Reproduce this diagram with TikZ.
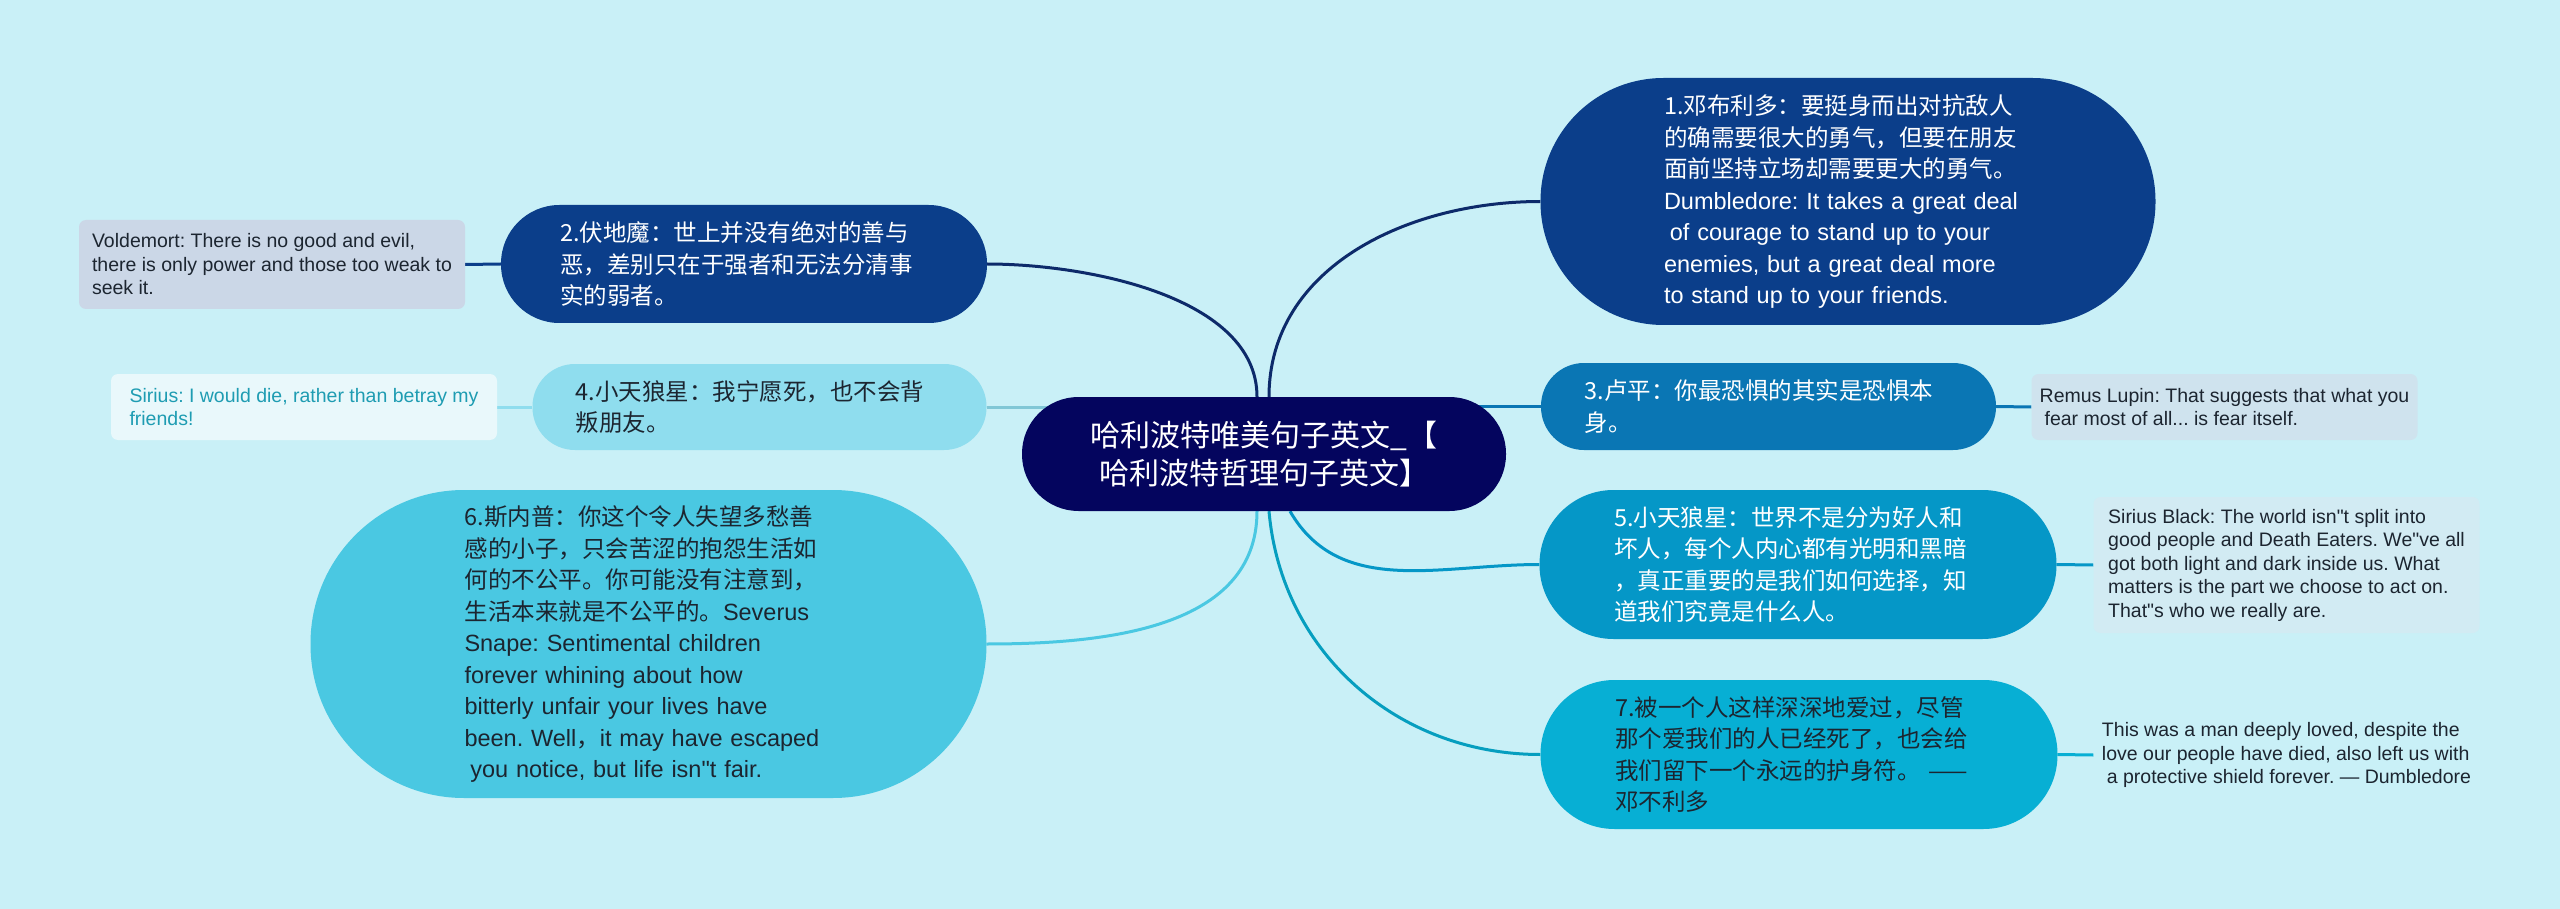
\documentclass[tikz,border=0pt]{standalone}
\usepackage{fontspec}
\setmainfont{Liberation Sans}[Ligatures=TeXOff]
\newfontfamily\latin{Liberation Sans}[Ligatures=TeXOff]
\newfontfamily\cjk{Noto Sans CJK SC}[Ligatures=TeXOff]

\hyphenpenalty=10000
\frenchspacing

\pgfdeclarelayer{edges}
\pgfsetlayers{edges,main}

\tikzset{
    topic/.style={rectangle, rounded corners=#1-0.5pt, inner xsep=#1, inner ysep=0pt,
        minimum height=2*#1, text width=368pt, align=left,
        font=\cjk\fontsize{23.5}{31.5}\selectfont},
    leaf/.style={rectangle, rounded corners=7pt, inner xsep=0pt, align=left,
        minimum width=386pt, font=\latin\fontsize{19.5}{23.5}\selectfont, minimum height=#1},
    link/.style={line width=3pt}
}

\begin{document}
\begin{tikzpicture}[x=1pt, y=-1pt]
    % Define colours
    \definecolor{bgColour}{HTML}{C9F0F7}
    \definecolor{centreColour}{HTML}{04055E}
    \definecolor{navyBlue}{HTML}{0B3E8A}
    \definecolor{midBlue}{HTML}{0A76B4}
    \definecolor{paleCyan}{HTML}{8FDDEE}
    \definecolor{oceanBlue}{HTML}{0597C7}
    \definecolor{skyCyan}{HTML}{4AC8E2}
    \definecolor{brightCyan}{HTML}{07AFD4}
    \definecolor{lineNavy}{HTML}{0D2A6A}
    \definecolor{greyBlue}{HTML}{CBD7E7}
    \definecolor{iceWhite}{HTML}{E9F8FB}
    \definecolor{paleSteel}{HTML}{CFE3EE}
    \definecolor{paleAqua}{HTML}{D2EBF3}
    \definecolor{darkText}{HTML}{1C2530}
    \definecolor{tealText}{HTML}{1E9CB2}

    \useasboundingbox (0,0) rectangle (2560,909);

    % Central topic
    \node[topic=57pt, text width=370pt, align=center, fill=centreColour, text=white,
        font=\cjk\fontsize{30}{38}\selectfont] (main) at (1264,454)
        {哈利波特唯美句子英文\_【\\哈利波特哲理句子英文】};

    % Right branches
    \node[topic=123.5pt, fill=navyBlue, text=white] (n1) at (1848,201.5)
        {1.邓布利多：要挺身而出对抗敌人\\的确需要很大的勇气，但要在朋友\\面前坚持立场却需要更大的勇气。\\{\latin Dumbledore: It takes a great deal}\\{\latin\hspace*{0.25em}of courage to stand up to your}\\{\latin enemies, but a great deal more}\\{\latin to stand up to your friends.}};
    \node[topic=43.5pt, fill=midBlue, text=white] (n3) at (1768.5,406.5)
        {3.卢平：你最恐惧的其实是恐惧本\\身。};
    \node[topic=74.5pt, fill=oceanBlue, text=white] (n5) at (1798,564.5)
        {5.小天狼星：世界不是分为好人和\\坏人，每个人内心都有光明和黑暗\\，真正重要的是我们如何选择，知\\道我们究竟是什么人。};
    \node[topic=74.5pt, fill=brightCyan, text=darkText] (n7) at (1799,754.5)
        {7.被一个人这样深深地爱过，尽管\\那个爱我们的人已经死了，也会给\\我们留下一个永远的护身符。 ——\\邓不利多};

    % Left branches
    \node[topic=59pt, fill=navyBlue, text=white] (n2) at (744,264)
        {2.伏地魔：世上并没有绝对的善与\\恶，差别只在于强者和无法分清事\\实的弱者。};
    \node[topic=43pt, fill=paleCyan, text=darkText] (n4) at (759.5,407)
        {4.小天狼星：我宁愿死，也不会背\\叛朋友。};
    \node[topic=154pt, fill=skyCyan, text=darkText] (n6) at (648.5,644)
        {6.斯内普：你这个令人失望多愁善\\感的小子，只会苦涩的抱怨生活如\\何的不公平。你可能没有注意到，\\生活本来就是不公平的。{\latin Severus}\\{\latin Snape: Sentimental children}\\{\latin forever whining about how}\\{\latin bitterly unfair your lives have}\\{\latin been. Well}，{\latin it may have escaped}\\{\latin\hspace*{0.25em}you notice, but life isn"t fair.}};

    % English quotes
    \node[leaf=89pt, fill=greyBlue, text=darkText] (l2) at (272,264.5)
        {Voldemort: There is no good and evil,\\there is only power and those too weak to\\seek it.};
    \node[leaf=66pt, fill=iceWhite, text=tealText] (l4) at (304,407)
        {Sirius: I would die, rather than betray my\\friends!};
    \node[leaf=66pt, fill=paleSteel, text=darkText] (l3) at (2224.5,407)
        {Remus Lupin: That suggests that what you\\\hspace*{0.25em}fear most of all... is fear itself.};
    \node[leaf=136pt, fill=paleAqua, text=darkText] (l5) at (2286.5,565)
        {Sirius Black: The world isn"t split into\\good people and Death Eaters. We"ve all\\got both light and dark inside us. What\\matters is the part we choose to act on.\\That"s who we really are.};
    \node[leaf=90pt, text=darkText] (l7) at (2286.5,755)
        {This was a man deeply loved, despite the\\love our people have died, also left us with\\\hspace*{0.25em}a protective shield forever. — Dumbledore};

    % Draw connectors behind the nodes
    \begin{pgfonlayer}{edges}
        \fill[bgColour] (0,0) rectangle (2560,909);

        \draw[link, lineNavy] ([xshift=5pt]main.north) to[out=90, in=180] (n1.west);
        \draw[link, lineNavy] (n2.east) to[out=0, in=90, looseness=0.85] ([xshift=-7pt]main.north);
        \draw[link, midBlue] (main.center |- n3.west) -- (n3.west);
        \draw[link, paleCyan!90!black] (n4.east) -- (main.center |- n4.east);
        \draw[link, oceanBlue] ([xshift=26pt]main.south) to[out=-60, in=180] (n5.west);
        \draw[link, skyCyan] ([xshift=-7pt]main.south) to[out=-90, in=0] (n6.east);
        \draw[link, brightCyan!90!black] ([xshift=5pt]main.south) to[out=-85, in=180] (n7.west);

        \draw[link, navyBlue] (n2.west) -- (l2.east);
        \draw[link, paleCyan] (n4.west) -- (l4.east);
        \draw[link, midBlue] (n3.east) -- (l3.west);
        \draw[link, oceanBlue] (n5.east) -- (l5.west);
        \draw[link, brightCyan] (n7.east) -- (l7.west);
    \end{pgfonlayer}

\end{tikzpicture}
\end{document}
